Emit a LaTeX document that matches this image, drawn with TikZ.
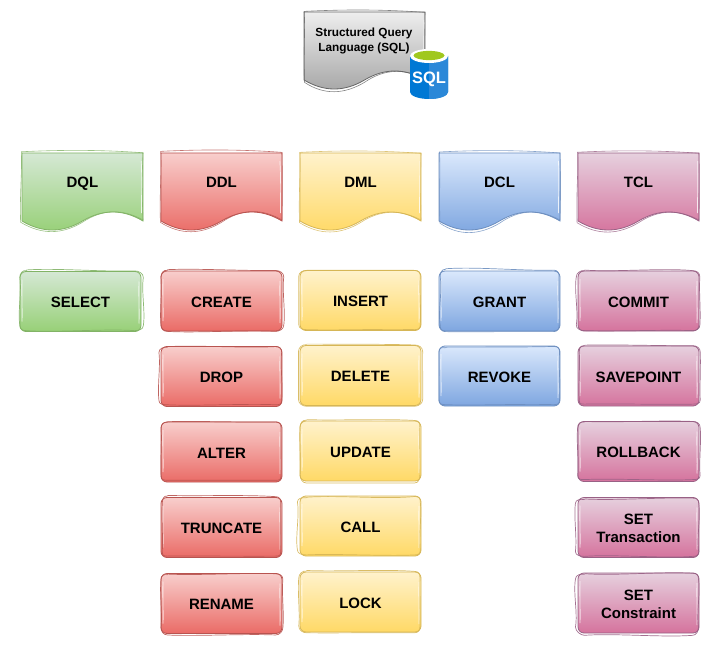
\documentclass[tikz,border=0pt]{standalone}
\usepackage{fontspec}
\setmainfont{Liberation Sans}
\definecolor{gs}{HTML}{82B366}\definecolor{gt}{HTML}{D5E8D4}\definecolor{gb}{HTML}{97D077}
\definecolor{rs}{HTML}{B85450}\definecolor{rt}{HTML}{F8CECC}\definecolor{rb}{HTML}{EA6B66}
\definecolor{ys}{HTML}{D6B656}\definecolor{yt}{HTML}{FFF2CC}\definecolor{yb}{HTML}{FFD966}
\definecolor{bs}{HTML}{6C8EBF}\definecolor{bt}{HTML}{DAE8FC}\definecolor{bb}{HTML}{7EA6E0}
\definecolor{ps}{HTML}{996185}\definecolor{pt}{HTML}{E6D0DE}\definecolor{pb}{HTML}{D5739D}
\definecolor{ks}{HTML}{666666}\definecolor{kt}{HTML}{EEEEEE}\definecolor{kb}{HTML}{A6A6A6}
\definecolor{az}{HTML}{0078D4}\definecolor{azl}{HTML}{2B88D8}\definecolor{lime}{RGB}{160,200,30}
\tikzset{
  x=1pt,y=-1pt,
  green/.style={draw=gs,top color=gt,bottom color=gb},
  red/.style={draw=rs,top color=rt,bottom color=rb},
  yellow/.style={draw=ys,top color=yt,bottom color=yb},
  blue/.style={draw=bs,top color=bt,bottom color=bb},
  pink/.style={draw=ps,top color=pt,bottom color=pb},
  grey/.style={draw=ks,top color=kt,bottom color=kb},
  label/.style={font=\fontsize{15}{18}\selectfont\bfseries,text=black,inner sep=0pt},
  sbox/.style={rounded corners=6pt,minimum width=121pt,minimum height=60pt,inner sep=0pt,outer sep=0pt,line width=.8pt,
    font=\fontsize{15}{18}\selectfont\bfseries,align=center,text=black},
  one/.style={text depth=0pt,execute at begin node={\rule{0pt}{12.4pt}}},
  sketch/.style={line width=.7pt,opacity=.9,fill=none},
}
% rough rounded outline over a named box
\newcommand{\sk}[2]{%
  \begin{scope}[shift={(#1.center)}]
    \pgfmathsetmacro{\ja}{rnd*4.4-2.6}\pgfmathsetmacro{\jb}{rnd*4.4-2.4}
    \pgfmathsetmacro{\jc}{rnd*4.4-1.8}\pgfmathsetmacro{\jd}{rnd*4.4-2}
    \pgfmathsetmacro{\je}{rnd*5-2.5}\pgfmathsetmacro{\jf}{rnd*5-2.5}
    \draw[white,line width=.8pt,opacity=.75] (-58.5,-22) .. controls (-59,-5) and (-58,8) .. (-58.5,20);
    \draw[white,line width=.8pt,opacity=.75] (58.5,-20) .. controls (58,-5) and (59,8) .. (58.5,22);
    \draw[#2,sketch] (-54,-30+\jb)
      .. controls (-25,-30+\jb+\je) and (25,-30+\jb-\je) .. (54,-30+\jb*.4)
      .. controls (58.5,-30+\jb*.4) and (60.5+\jc,-28) .. (60.5+\jc,-24)
      .. controls (60.5+\jc+\jf,-10) and (60.5+\jc-\jf,10) .. (60.5+\jc,24)
      .. controls (60.5+\jc,28) and (58,30+\jd) .. (54,30+\jd)
      .. controls (25,30+\jd+\jf) and (-25,30+\jd-\jf) .. (-54,30+\jd)
      .. controls (-58,30+\jd) and (-60.5+\ja,28) .. (-60.5+\ja,24)
      .. controls (-60.5+\ja+\je,10) and (-60.5+\ja-\je,-10) .. (-60.5+\ja,-24)
      .. controls (-60.5+\ja,-28) and (-58,-30+\jb) .. (-54,-30+\jb+.6);
  \end{scope}}
\newcommand{\docshape}[5]{% name, x, y, style, node tail
  \begin{scope}[shift={(#2,#3)}]
    \path[#4,line width=.8pt] (0,68) -- (0,0) -- (121,0) -- (121,68) .. controls (100.8,56) and (80.7,56) .. (60.5,68) .. controls (40.3,80) and (20.2,80) .. (0,68) -- cycle;
    \pgfmathsetmacro{\ja}{rnd*3-1.5}\pgfmathsetmacro{\jb}{rnd*3-.5}\pgfmathsetmacro{\jc}{rnd*3-1.5}
    \pgfmathsetmacro{\jd}{rnd*2-1}
    \draw[#4,shade=false,fill=none,line width=.6pt,opacity=.8] (\ja,68+\jb) .. controls (\ja-1,40) and (\ja*.5+1,20) .. (\ja*.5,\jd-1) .. controls (40,\jd-3) and (80,\jd-3) .. (121,\jd) .. controls (121+\jc,20) and (121+\jc,45) .. (121,67) .. controls (100.8,56+\jd) and (80.7,56+\jd) .. (60.5,68+\jb) .. controls (40.3,80+\jb) and (20.2,81+\jb) .. (\ja,68+\jb);
    \draw[white,line width=.7pt,opacity=.8] (119.5+\jd,8) .. controls (120,25) and (119.5,40) .. (119.5,60);
    \node[label,#5;
  \end{scope}}
\begin{document}
\begin{tikzpicture}
\useasboundingbox (0,0) rectangle (722,647);
\pgfmathsetseed{11}
% SQL document
\docshape{sqldoc}{304}{12}{grey}{font=\fontsize{11.8}{15}\selectfont\bfseries,align=center] (sqldoc) at (60,28.5) {Structured Query\\Language (SQL)}}
% SQL icon
\fill[az] (410,56) -- (410,92) .. controls (410,96) and (419,99) .. (429,99) .. controls (439,99) and (448,96) .. (448,92) -- (448,56) -- cycle;
\fill[azl] (429,62) -- (429,99) .. controls (439,99) and (448,96) .. (448,92) -- (448,56) -- cycle;
\fill[white] (429,56) ellipse[x radius=19,y radius=7];
\fill[lime] (429,55.5) ellipse[x radius=15.5,y radius=4.6];
\node[font=\fontsize{16.5}{20}\selectfont\bfseries,text=white,inner sep=0pt] (sqlicon) at (429,79.5) {SQL};
% headers
\docshape{dql}{22}{153}{green}{one] (dql) at (60.5,28.5) {DQL}}
\docshape{ddl}{161}{153}{red}{one] (ddl) at (60.5,28.5) {DDL}}
\docshape{dml}{300}{153}{yellow}{one] (dml) at (60.5,28.5) {DML}}
\docshape{dcl}{439}{153}{blue}{one] (dcl) at (60.5,28.5) {DCL}}
\docshape{tcl}{578}{153}{pink}{one] (tcl) at (60.5,28.5) {TCL}}
% boxes
\node[sbox,one,green] (select) at (80.5,301.5) {SELECT}; \sk{select}{gs}
\node[sbox,one,red] (create) at (221.5,301) {CREATE}; \sk{create}{rs}
\node[sbox,one,red] (drop) at (221.5,376.5) {DROP}; \sk{drop}{rs}
\node[sbox,one,red] (alter) at (221.5,452) {ALTER}; \sk{alter}{rs}
\node[sbox,one,red] (truncate) at (221.5,527.5) {TRUNCATE}; \sk{truncate}{rs}
\node[sbox,one,red] (rename) at (221.5,603.5) {RENAME}; \sk{rename}{rs}
\node[sbox,one,yellow] (insert) at (360.5,300.5) {INSERT}; \sk{insert}{ys}
\node[sbox,one,yellow] (delete) at (360.5,375.5) {DELETE}; \sk{delete}{ys}
\node[sbox,one,yellow] (update) at (360.5,451) {UPDATE}; \sk{update}{ys}
\node[sbox,one,yellow] (call) at (360.5,526) {CALL}; \sk{call}{ys}
\node[sbox,one,yellow] (lock) at (360.5,602) {LOCK}; \sk{lock}{ys}
\node[sbox,one,blue] (grant) at (499.5,301) {GRANT}; \sk{grant}{bs}
\node[sbox,one,blue] (revoke) at (499.5,376) {REVOKE}; \sk{revoke}{bs}
\node[sbox,one,pink] (commit) at (638.5,301) {COMMIT}; \sk{commit}{ps}
\node[sbox,one,pink] (savepoint) at (638.5,376) {SAVEPOINT}; \sk{savepoint}{ps}
\node[sbox,one,pink] (rollback) at (638.5,451.5) {ROLLBACK}; \sk{rollback}{ps}
\node[sbox,pink] (settrans) at (638.5,527.5) {\rule{0pt}{13pt}SET\\Transaction}; \sk{settrans}{ps}
\node[sbox,pink] (setcons) at (638.5,603) {\rule{0pt}{13pt}SET\\Constraint}; \sk{setcons}{ps}
\end{tikzpicture}
\end{document}
